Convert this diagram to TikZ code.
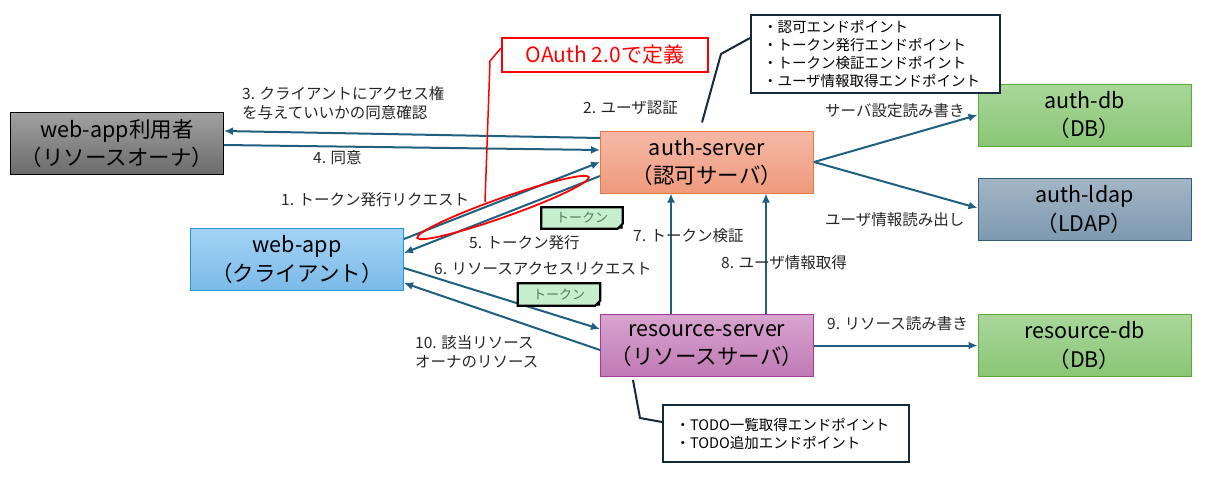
\documentclass[tikz,border=0pt]{standalone}
\usepackage{fontspec}
\setmainfont{Noto Sans CJK JP}
\usetikzlibrary{positioning,arrows.meta,shapes.geometric}

\definecolor{flow}{HTML}{1F5F80}
\definecolor{memoline}{HTML}{14293A}
\definecolor{tokenfill}{HTML}{C6EFCE}
\definecolor{tokentext}{HTML}{4E7A5C}
\definecolor{labeltext}{HTML}{262626}

\tikzset{
  sysbox/.style={draw, line width=1pt, minimum width=213pt, minimum height=62pt,
    inner sep=0pt, align=center, font=\fontsize{21.5}{28.5}\selectfont},
  owner/.style={sysbox, top color=black!37, bottom color=black!58, draw=black},
  client/.style={sysbox, top color={rgb,255:red,163;green,211;blue,245}, bottom color={rgb,255:red,123;green,186;blue,232}, draw={rgb,255:red,30;green,155;blue,215}},
  authsrv/.style={sysbox, top color={rgb,255:red,245;green,185;blue,166}, bottom color={rgb,255:red,239;green,154;blue,125}, draw={rgb,255:red,227;green,122;blue,69}},
  ressrv/.style={sysbox, top color={rgb,255:red,216;green,164;blue,207}, bottom color={rgb,255:red,192;green,122;blue,180}, draw={rgb,255:red,162;green,58;blue,152}},
  dbbox/.style={sysbox, top color={rgb,255:red,169;green,215;blue,154}, bottom color={rgb,255:red,138;green,198;blue,118}, draw={rgb,255:red,91;green,170;blue,60}},
  ldapbox/.style={sysbox, top color={rgb,255:red,164;green,181;blue,197}, bottom color={rgb,255:red,125;green,153;blue,176}, draw={rgb,255:red,46;green,94;blue,126}},
  flowarrow/.style={color=flow, line width=2pt, -{Latex[length=9pt,width=8pt]}},
  lbl/.style={anchor=west, align=left, inner sep=0pt, text=labeltext,
    font=\fontsize{15.5}{19}\selectfont},
  memo/.style={draw=memoline, line width=2pt, fill=white, align=left, inner xsep=12pt,
    inner ysep=0pt, font=\fontsize{14.5}{18}\selectfont},
  memolink/.style={draw=memoline, line width=2pt},
  token/.style={fill=tokenfill, text=tokentext, inner sep=0pt,
    font=\fontsize{13}{13}\selectfont},
  tokenline/.style={draw=black, line width=2.2pt},
}

\begin{document}
\begin{tikzpicture}[x=1pt, y=-1pt]
  \useasboundingbox (0,0) rectangle (1209,479);

  % systems
  \node (auth) [authsrv] at (707,162) {auth-server\\（認可サーバ）};
  \node (resource) [ressrv, on grid, below=183.5pt of auth] {resource-server\\（リソースサーバ）};
  \node (webapp) [client, on grid, below left=97.5pt and 410pt of auth] {web-app\\（クライアント）};
  \node (user) [owner, on grid, above left=116pt and 180pt of webapp] {web-app利用者\\（リソースオーナ）};
  \node (authdb) [dbbox, on grid, above right=47pt and 377.5pt of auth] {auth-db\\（DB）};
  \node (ldap) [ldapbox, on grid, below=94.5pt of authdb] {auth-ldap\\（LDAP）};
  \node (resdb) [dbbox, on grid, right=377.5pt of resource] {resource-db\\（DB）};

  \path[flowarrow]  ([yshift=24pt]auth.west) edge ([yshift=12.5pt]user.east)
            ([yshift=-1.5pt]user.east) edge ([yshift=12pt]auth.west)
            ([yshift=20.5pt]webapp.east) edge (auth.west)
            ([yshift=-14pt]auth.west) edge ([yshift=6.5pt]webapp.east)
            ([yshift=-8.5pt]webapp.east) edge ([yshift=16.5pt]resource.west)
            ([yshift=-4.5pt]resource.west) edge ([yshift=-23.5pt]webapp.east)
            ([xshift=-36pt]resource.north) edge ([xshift=-36pt]auth.south)
            ([xshift=59pt]resource.north) edge ([xshift=59pt]auth.south)
            (auth.east) edge (authdb.west)
            (auth.east) edge ([yshift=1.5pt]ldap.west)
            (resource.east) edge (resdb.west)
            ;

  % labels
  \node (l3) [lbl] at (242,103.5) {3. クライアントにアクセス権\\を与えていいかの同意確認};
  \node (l4) [lbl] at (313,158) {4. 同意};
  \node (l1) [lbl] at (281,200) {1. トークン発行リクエスト};
  \node (l2) [lbl] at (583,108) {2. ユーザ認証};
  \node (l5) [lbl] at (469,243) {5. トークン発行};
  \node (l7) [lbl] at (633,236) {7. トークン検証};
  \node (l8) [lbl] at (721,263) {8. ユーザ情報取得};
  \node (l6) [lbl] at (434,269) {6. リソースアクセスリクエスト};
  \node (l10) [lbl] at (415,351.5) {10. 該当リソース\\オーナのリソース};
  \node (l9) [lbl] at (827,324) {9. リソース読み書き};
  \node (ldb) [lbl] at (825,111) {サーバ設定読み書き};
  \node (lldap) [lbl] at (825,220) {ユーザ情報読み出し};

  % tokens
  \node (tok1) [token, minimum width=81pt, minimum height=21pt] at (582,218) {トークン};
  \node (tok2) [token, minimum width=82pt, minimum height=22pt] at (559,294.5) {トークン};
  \draw[tokenline] (tok1.north west) -- (tok1.north east) -- ([yshift=5pt]tok1.south east)
    -- ([xshift=-5pt]tok1.south east) -- (tok1.south west) -- cycle;
  \fill (tok1.south east) -- ([yshift=5pt]tok1.south east) -- ([xshift=-5pt]tok1.south east) -- cycle;
  \draw[tokenline] (tok2.north west) -- (tok2.north east) -- ([yshift=5pt]tok2.south east)
    -- ([xshift=-5pt]tok2.south east) -- (tok2.south west) -- cycle;
  \fill (tok2.south east) -- ([yshift=5pt]tok2.south east) -- ([xshift=-5pt]tok2.south east) -- cycle;

  % OAuth 2.0 scope
  \node (oval) [ellipse, draw=red, line width=1.8pt, minimum width=182pt, minimum height=19pt,
    inner sep=0pt, rotate=19.5] at (503,207.5) {};
  \node (oauth) [draw=red, line width=2pt, fill=white, text=red, minimum width=206pt,
    minimum height=34pt, inner sep=0pt, font=\fontsize{21}{21}\selectfont] at (605,55) {OAuth 2.0で定義};
  \draw[red, line width=1.5pt] ([yshift=7pt]oauth.west) -- (490,61) -- ([xshift=-18pt,yshift=5.5pt]oval.center);

  % endpoint memos
  \node (authep) [memo, text width=225pt, minimum height=78pt] at (875.5,54)
    {・認可エンドポイント\\・トークン発行エンドポイント\\・トークン検証エンドポイント\\・ユーザ情報取得エンドポイント};
  \draw[memolink] ([yshift=16pt]authep.west) -- (721,54) -- ([xshift=-5pt,yshift=8pt]auth.north);
  \node (todoep) [memo, text width=221pt, inner xsep=12.5pt, minimum height=57pt] at (786,433.5)
    {・TODO一覧取得エンドポイント\\・TODO追加エンドポイント};
  \draw[memolink] ([yshift=11.5pt]todoep.west) -- (640,418) -- ([xshift=-74pt,yshift=-3pt]resource.south);
\end{tikzpicture}
\end{document}
